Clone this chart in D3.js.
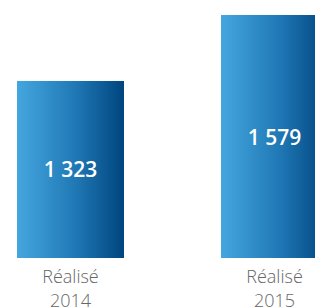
<!DOCTYPE html>
<html>
<head>
<meta charset="utf-8">
<script src="https://cdn.jsdelivr.net/npm/d3@7"></script>
<style>
  body { margin: 0; background: #fff; }
  svg { display: block; }
</style>
</head>
<body>
<div id="chart"></div>
<script>
// Data
const categories = ["Réalisé 2014", "Réalisé 2015"];
const values = [1323, 1579];
const valueLabels = ["1 323", "1 579"];

const width = 315, height = 308;
const baseline = 258;

const svg = d3.select("#chart")
    .append("svg")
    .attr("width", width)
    .attr("height", height);

// Gradient fill for bars
const grad = svg.append("defs").append("linearGradient")
    .attr("id", "barGrad")
    .attr("x1", "0%").attr("x2", "100%")
    .attr("y1", "0%").attr("y2", "0%");
grad.append("stop").attr("offset", "0%").attr("stop-color", "#45a6df");
grad.append("stop").attr("offset", "55%").attr("stop-color", "#1f78b5");
grad.append("stop").attr("offset", "100%").attr("stop-color", "#00457e");

// second bar runs past the right edge in the original
const x = d3.scaleBand()
    .domain(categories)
    .range([17, 328])
    .paddingInner(0.4755)
    .paddingOuter(0);

// bars don't start at zero in the original
const y = d3.scaleLinear()
    .domain([636, 1579])
    .range([baseline, 15]);

const bars = svg.append("g")
    .selectAll("g")
    .data(categories)
    .enter().append("g");

bars.append("rect")
    .attr("x", d => x(d))
    .attr("width", x.bandwidth())
    .attr("y", (d, i) => y(values[i]))
    .attr("height", (d, i) => baseline - y(values[i]))
    .attr("fill", "url(#barGrad)");

bars.append("text")
    .attr("x", d => x(d) + x.bandwidth() / 2)
    .attr("y", (d, i) => (y(values[i]) + baseline) / 2 + 8)
    .attr("text-anchor", "middle")
    .attr("fill", "#fff")
    .style("font-family", "'Open Sans', sans-serif")
    .style("font-weight", "600")
    .style("font-size", "21px")
    .text((d, i) => valueLabels[i]);

// Category labels (two lines)
const labels = bars.append("text")
    .attr("text-anchor", "middle")
    .attr("fill", "#666")
    .style("font-family", "'Open Sans', sans-serif")
    .style("font-weight", "300")
    .style("font-size", "18px");

labels.selectAll("tspan")
    .data(d => d.split(" ").map(t => ({t, c: d})))
    .enter().append("tspan")
    .attr("x", d => x(d.c) + x.bandwidth() / 2)
    .attr("y", (d, i) => 283 + i * 24)
    .text(d => d.t);
</script>
</body>
</html>
